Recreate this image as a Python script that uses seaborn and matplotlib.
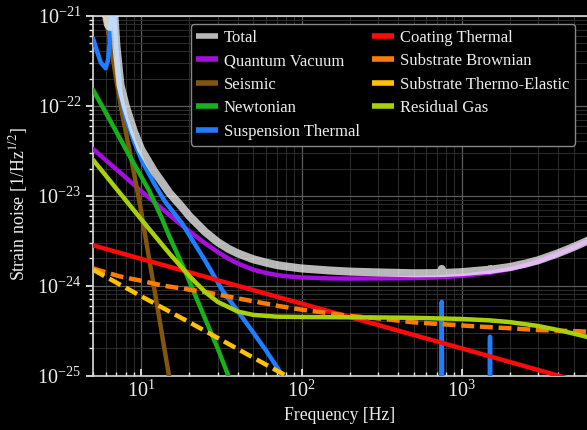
import numpy as np
import pandas as pd
import matplotlib
matplotlib.use("Agg")
import matplotlib.pyplot as plt
import seaborn as sns

# Noise curves (frequency in Hz, strain in 1/rtHz)
f_total = [5, 5.5, 6.0, 6.2, 6.35, 6.45, 6.55, 6.65, 6.75, 7.0, 7.42, 8, 9, 10, 12, 15, 18, 20, 25, 30,
           35, 40, 50, 60, 70, 80, 100, 150, 200, 300, 500, 700, 740, 750, 760, 1000, 1490, 1500, 1510,
           2000, 2500, 3000, 4000, 5000, 6000, 6500]
total = [6.5e-21, 2.5e-21, 1.05e-21, 7.9e-22, 7.5e-22, 1.05e-21, 3e-21, 3e-21, 1.25e-21, 4.6e-22, 1.7e-22,
         9.9e-23, 5.16e-23, 3.25e-23, 1.88e-23, 1.07e-23, 7.4e-24, 5.9e-24, 3.96e-24, 3.04e-24,
         2.56e-24, 2.28e-24, 1.96e-24, 1.8e-24, 1.69e-24, 1.63e-24, 1.55e-24, 1.47e-24, 1.43e-24,
         1.4e-24, 1.37e-24, 1.376e-24, 1.377e-24, 1.53e-24, 1.378e-24, 1.41e-24, 1.5e-24, 1.52e-24,
         1.5e-24, 1.61e-24, 1.755e-24, 1.91e-24, 2.29e-24, 2.69e-24, 3.11e-24, 3.33e-24]

f_quantum = [5, 6, 7, 8, 9, 10, 12, 15, 18, 20, 25, 30, 35, 40, 50, 60, 70, 80, 100, 150, 200, 300,
             500, 700, 1000, 1500, 2000, 2500, 3000, 4000, 5000, 6000, 6500]
quantum = [3.3e-23, 2.48e-23, 1.96e-23, 1.59e-23, 1.32e-23, 1.12e-23, 8.54e-24, 6.09e-24, 4.65e-24,
           4.0e-24, 2.95e-24, 2.36e-24, 1.99e-24, 1.76e-24, 1.5e-24, 1.38e-24, 1.31e-24, 1.27e-24,
           1.23e-24, 1.2e-24, 1.195e-24, 1.2e-24, 1.21e-24, 1.23e-24, 1.28e-24, 1.39e-24, 1.52e-24,
           1.68e-24, 1.85e-24, 2.24e-24, 2.65e-24, 3.08e-24, 3.3e-24]

f_seismic = [5, 6, 6.5, 7, 7.6, 8, 9, 10, 11, 12, 13, 14, 15, 16, 18]
seismic = [6.5e-21, 9.5e-22, 4.3e-22, 1.9e-22, 8.1e-23, 5.2e-23, 1.8e-23, 6.6e-24, 2.4e-24, 9.7e-25,
           4.2e-25, 1.9e-25, 9.3e-26, 4.7e-26, 1.3e-26]

f_newton = [5, 6, 7, 8, 9, 10, 11.22, 12, 13.5, 15, 17, 19.05, 22, 25, 30, 34.6, 40, 50]
newton = [1.5e-22, 8.4e-23, 5.1e-23, 3.3e-23, 2.26e-23, 1.63e-23, 1.13e-23, 8.7e-24, 5.5e-24, 3.5e-24,
          2.15e-24, 1.36e-24, 7.4e-25, 4.3e-25, 2.0e-25, 1.04e-25, 5.5e-26, 2.1e-26]

f_susp = [5.0, 5.3, 5.6, 6.0, 6.2, 6.35, 6.45, 6.55, 6.65, 6.75, 7.0, 7.42, 8, 9, 10.15, 12, 14, 16, 18,
          20, 25, 32, 40, 50, 60, 76, 100, 300, 740, 750, 760, 1490, 1500, 1510, 6500]
susp = [5.6e-22, 4.0e-22, 3.0e-22, 2.6e-22, 3.2e-22, 5e-22, 9e-22, 3e-21, 3e-21, 1.2e-21, 4.2e-22,
        1.35e-22, 7.5e-23, 4.0e-23, 2.4e-23, 1.38e-23, 8.7e-24, 6.4e-24, 4.9e-24, 3.6e-24, 1.9e-24,
        8.9e-25, 5.2e-25, 3.0e-25, 1.9e-25, 1.0e-25, 5e-26, 1e-26, 3e-27, 6.6e-25, 3e-27,
        1e-27, 2.7e-25, 1e-27, 3e-28]

f_coating = [5, 10, 100, 1000, 6500]
coating = [2.8e-24, 1.98e-24, 6.3e-25, 2.0e-25, 7.8e-26]

f_subbrown = [5, 7.28, 10, 13.6, 20, 26.6, 40, 73, 100, 200, 307, 500, 1000, 1280, 2000, 3000, 5460, 6500]
subbrown = [1.55e-24, 1.27e-24, 1.13e-24, 1.0e-24, 9.0e-25, 8.3e-25, 7.2e-25, 5.9e-25, 5.4e-25, 4.6e-25,
            4.3e-25, 3.9e-25, 3.6e-25, 3.5e-25, 3.35e-25, 3.2e-25, 3.1e-25, 3.05e-25]

f_subte = [5, 10, 20, 50, 100, 200]
subte = [1.5e-24, 7.6e-25, 3.9e-25, 1.58e-25, 8e-26, 4.1e-26]

f_gas = [5, 6, 7, 8, 10, 12, 15, 20, 25, 30, 40, 50, 70, 100, 200, 300, 500, 1000, 1500, 2000,
         3000, 4000, 5000, 6500]
gas = [2.5e-23, 1.675e-23, 1.19e-23, 8.88e-24, 5.44e-24, 3.67e-24, 2.27e-24, 1.27e-24, 8.5e-25,
       6.58e-25, 5.14e-25, 4.72e-25, 4.51e-25, 4.47e-25, 4.44e-25, 4.42e-25, 4.38e-25, 4.25e-25,
       4.1e-25, 3.92e-25, 3.55e-25, 3.2e-25, 2.92e-25, 2.6e-25]

ytick_vals = [1e-25, 1e-24, 1e-23, 1e-22, 1e-21]

sns.set_theme(style="dark", rc={
    "figure.facecolor": "black", "axes.facecolor": "black",
    "axes.edgecolor": "#d8d8d8", "text.color": "#eeeeee",
    "axes.labelcolor": "#eeeeee", "xtick.color": "#eeeeee", "ytick.color": "#eeeeee",
})
plt.rcParams["font.family"] = ["Liberation Serif", "DejaVu Serif"]
plt.rcParams["mathtext.fontset"] = "stix"

fig = plt.figure(figsize=(5.87, 4.30), dpi=100)
ax = fig.add_axes([93 / 587, 1 - 375.5 / 430, 1 - 93 / 587, (375.5 - 15.7) / 430])

lw = 3.2
dash = (0, (2.9, 1.3))
traces = [
    (f_total, total, "Total", "white", 5.8, "-", 0.72, 10),
    (f_quantum, quantum, "Quantum Vacuum", "#a30fdc", lw, "-", 1, 3),
    (f_seismic, seismic, "Seismic", "#83560c", lw, "-", 1, 3),
    (f_newton, newton, "Newtonian", "#17b11c", lw, "-", 1, 3),
    (f_susp, susp, "Suspension Thermal", "#1f7dff", lw, "-", 1, 3),
    (f_coating, coating, "Coating Thermal", "#ff0a0a", lw, "-", 1, 3),
    (f_subbrown, subbrown, "Substrate Brownian", "#fb7d07", lw, dash, 1, 3),
    (f_subte, subte, "Substrate Thermo-Elastic", "#ffc107", lw, dash, 1, 3),
    (f_gas, gas, "Residual Gas", "#a8d00c", lw, "-", 1, 3),
]
for fx, hy, name, col, w, ls, a, z in traces:
    df = pd.DataFrame({"f": fx, "h": hy})
    sns.lineplot(data=df, x="f", y="h", ax=ax, color=col, lw=w, linestyle=ls,
                 alpha=a, zorder=z, label=name, solid_joinstyle="round")

ax.set_xscale("log")
ax.set_yscale("log")
ax.set_xlim(5, 10 ** (1 + (587 - 142) / 160))
ax.set_ylim(1e-25, 1e-21)
ax.set_yticks(ytick_vals)

ax.grid(which="major", color="#5c5c5c", lw=0.9)
ax.grid(which="minor", color="#2e2e2e", lw=0.7)
ax.spines["right"].set_visible(False)
for s in ["left", "bottom", "top"]:
    ax.spines[s].set_color("#d8d8d8")
    ax.spines[s].set_linewidth(1.2)
ax.tick_params(axis="x", which="both", direction="in", bottom=True, labelsize=14.5)
ax.tick_params(axis="y", which="both", direction="out", left=True, labelsize=14.5)
ax.tick_params(which="major", length=5)
ax.tick_params(which="minor", length=3)

ax.set_xlabel("Frequency [Hz]", fontsize=12.7)
ax.set_ylabel(r"Strain noise [1/Hz$^{1/2}$]", fontsize=12.9)
ax.yaxis.set_label_coords(-0.128, 0.475)

leg = ax.legend(loc="upper right", bbox_to_anchor=(0.976, 0.977), borderaxespad=0, ncol=2,
                fontsize=12, facecolor="black", edgecolor="#888888", framealpha=1,
                handlelength=1.3, columnspacing=0.75, labelspacing=0.45, borderpad=0.35,
                handletextpad=0.35)
for line in leg.get_lines():
    line.set_linewidth(4)
    line.set_linestyle("-")
    line.set_solid_capstyle("butt")

fig.savefig("out.png", dpi=100, facecolor="black")
